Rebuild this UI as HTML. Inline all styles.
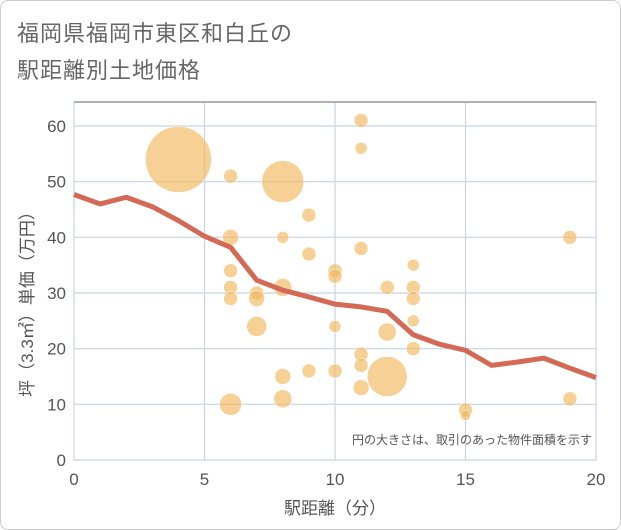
<!DOCTYPE html>
<html><head><meta charset="utf-8"><style>
body{margin:0;background:#fff;font-family:"Liberation Sans","Noto Sans CJK JP",sans-serif}
#wrap{position:relative;width:619px;height:528px;border:1px solid #ccc;border-radius:8px;overflow:hidden;background:#fff}
.title{position:absolute;left:16px;font-size:22px;color:#666;letter-spacing:1px}
</style></head><body>
<div id="wrap">
<div class="title" style="top:15px">福岡県福岡市東区和白丘の</div>
<div class="title" style="top:52px">駅距離別土地価格</div>
<svg id="chart" width="621" height="530" style="position:absolute;left:-1px;top:-1px"></svg>
</div>
<script>
const xTicks=[0,5,10,15,20];
const yTicks=[0,10,20,30,40,50,60];
const bubbleX=[4,6,8,6,6,6,6,6,7,7,7,8,8,8,8,9,9,9,10,10,10,10,11,11,11,11,11,11,12,12,12,13,13,13,13,13,15,15,19,19];
const bubbleY=[54,51,50,40,34,31,29,10,30,29,24,40,31,15,11,44,37,16,34,33,24,16,61,56,38,19,17,13,31,23,15,35,31,29,25,20,9,8,40,11];
const bubbleR=[33,7,21,8,7,7,7,11,7,8,10,6,9,8,9,7,7,7,7,7,6,7,7,6,7,7,7,8,7,9,20,6,7,7,6,7,7,5,7,7];
const lineX=[0,1,2,3,4,5,6,7,8,9,10,11,12,13,14,15,16,17,18,19,20];
const lineY=[47.7,46,47.2,45.5,43,40.2,38.2,32.3,30.5,29.3,28,27.5,26.7,22.5,20.8,19.7,17,17.6,18.3,16.5,14.8];
const L=74,R=596,T=102,B=460;
const sx=v=>L+(R-L)*v/20, sy=v=>B-(B-126)*v/60;
const svg=document.getElementById('chart');
const NS='http://www.w3.org/2000/svg';
function mk(t,a,p){const e=document.createElementNS(NS,t);for(const k in a)e.setAttribute(k,a[k]);(p||svg).appendChild(e);return e;}
let e=mk('rect',{x:L,y:T,width:R-L,height:B-T,fill:'none',stroke:'#999','stroke-width':1});


yTicks.forEach(v=>{
 let g=mk('line',{x1:L,x2:R,y1:sy(v),y2:sy(v),stroke:'#c5d5e6','stroke-width':1.2});
 
 
 let t=mk('text',{x:L-8,y:sy(v)+6,'text-anchor':'end','font-size':17,fill:'#555'});
 t.textContent=v;
 
 
});
xTicks.forEach(v=>{
 let g=mk('line',{x1:sx(v),x2:sx(v),y1:T,y2:B,stroke:'#c5d5e6','stroke-width':1.2});
 
 
 let t=mk('text',{x:sx(v),y:B+25,'text-anchor':'middle','font-size':17,fill:'#555'});
 t.textContent=v;
 
 
});
mk('line',{x1:L,x2:R,y1:T,y2:T,stroke:'#999','stroke-width':1.5});
bubbleX.forEach((x,i)=>{
 let c=mk('circle',{cx:sx(x),cy:sy(bubbleY[i]),r:bubbleR[i],fill:'rgba(242,183,92,0.65)',stroke:'#fff','stroke-width':0.5});
 
 
});
let p=mk('polyline',{points:lineX.map((x,i)=>sx(x)+','+sy(lineY[i])).join(' '),fill:'none',stroke:'#d46a55','stroke-width':5,'stroke-linejoin':'round'});


let n=mk('text',{x:592,y:444,'text-anchor':'end','font-size':12,fill:'#555'});
n.textContent='円の大きさは、取引のあった物件面積を示す';


let xt=mk('text',{x:(L+R)/2,y:514,'text-anchor':'middle','font-size':17,fill:'#555'});
xt.textContent='駅距離（分）';


let yt=mk('text',{x:0,y:0,'text-anchor':'middle','font-size':17,fill:'#555',transform:'translate(33,300) rotate(-90)'});
yt.textContent='坪（3.3㎡）単価（万円）';


</script>
</body></html>
